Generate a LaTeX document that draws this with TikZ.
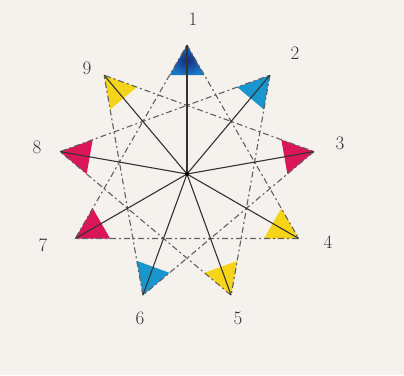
\documentclass[tikz,border=0pt]{standalone}
\usetikzlibrary{calc}
\definecolor{paper}{RGB}{245,242,238}
\definecolor{tblue}{RGB}{25,150,205}
\definecolor{tnavy}{RGB}{20,40,120}
\definecolor{tnavyo}{RGB}{25,120,195}
\definecolor{tred}{RGB}{218,22,88}
\definecolor{tyellow}{RGB}{246,212,25}
\begin{document}
\begin{tikzpicture}[x=1pt,y=-1pt,
  spoke/.style={draw=black!80,line width=1.1pt},
  chord/.style={draw=black!62,line width=1.1pt,dash pattern=on 6pt off 3pt on 2pt off 3pt},
  lbl/.style={font=\fontsize{19}{22}\selectfont,text=black!80,inner sep=0pt}]
\fill[paper] (0,0) rectangle (404,375);
\useasboundingbox (0,0) rectangle (404,375);
\coordinate (c) at (187,174);
\foreach \i in {1,...,9}{
  \pgfmathsetmacro\ang{130-40*\i}
  \coordinate (p\i) at ($(c)+({129*cos(\ang)},{-129*sin(\ang)})$);
}
% coloured tips
\foreach \k/\col in {2/tblue,3/tred,4/tyellow,5/tyellow,6/tblue,7/tred,8/tred,9/tyellow}{
  \pgfmathtruncatemacro\ka{mod(\k+2,9)+1}
  \pgfmathtruncatemacro\kb{mod(\k+5,9)+1}
  \pgfmathtruncatemacro\ku{mod(\k,9)+1}
  \pgfmathtruncatemacro\kd{mod(\k+7,9)+1}
  \coordinate (qk) at (p\k);
  \coordinate (qa) at (p\ka);
  \coordinate (qb) at (p\kb);
  \coordinate (qu) at (p\ku);
  \coordinate (qd) at (p\kd);
  \fill[\col] (qk) -- (intersection of qk--qa and qu--qd)
     -- (intersection of qk--qb and qu--qd) -- cycle;
}
\shade[inner color=tnavy,outer color=tnavyo] (p1) -- (intersection of p1--p4 and p2--p9)
     -- (intersection of p1--p7 and p2--p9) -- cycle;
% dashed triangles
\draw[chord] (p1) -- (p4) -- (p7) -- cycle;
\draw[chord] (p2) -- (p5) -- (p8) -- cycle;
\draw[chord] (p3) -- (p6) -- (p9) -- cycle;
% spokes
\foreach \i in {1,...,9}{ \draw[spoke] (c) -- (p\i); }
\fill[black] (c) circle (2);
% labels
\node[lbl] (l1) at (193,19) {1};
\node[lbl] (l2) at (295,53) {2};
\node[lbl] (l3) at (340,143) {3};
\node[lbl] (l4) at (328,242) {4};
\node[lbl] (l5) at (238,318) {5};
\node[lbl] (l6) at (140,318) {6};
\node[lbl] (l7) at (43,245) {7};
\node[lbl] (l8) at (37,147) {8};
\node[lbl] (l9) at (87,68) {9};
\end{tikzpicture}
\end{document}
